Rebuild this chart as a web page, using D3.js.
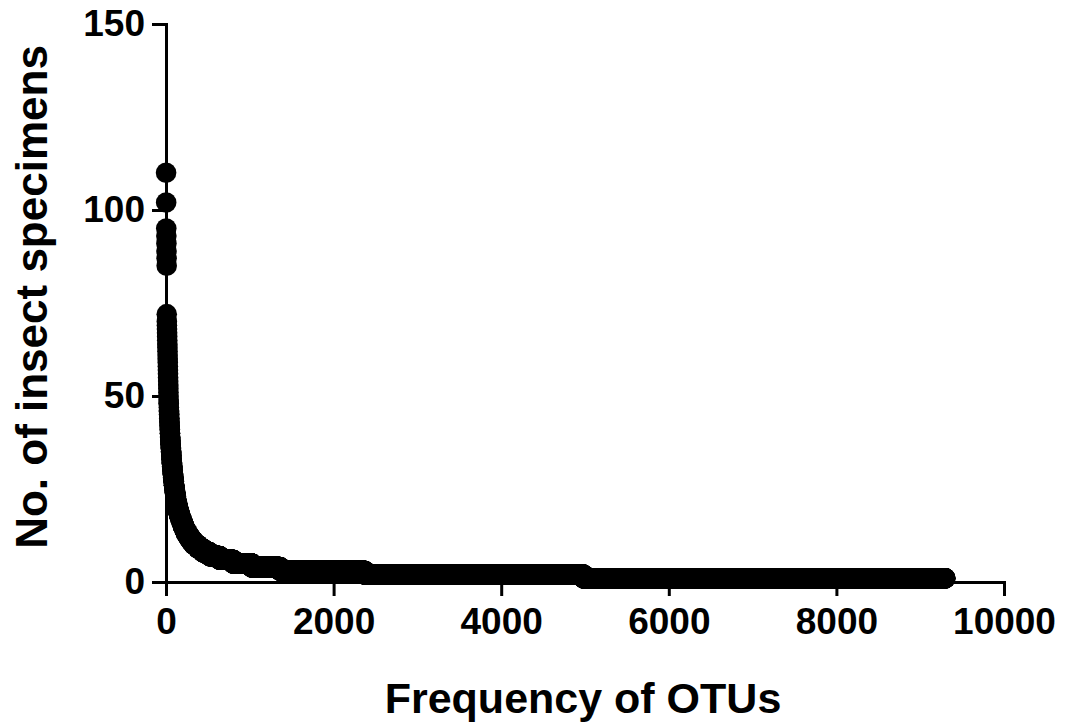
<!DOCTYPE html>
<html>
<head>
<meta charset="utf-8">
<script src="https://cdn.jsdelivr.net/npm/d3@7"></script>
<style>
  body { margin: 0; background: #fff; }
  text { font-family: "Liberation Sans", Arial, sans-serif; font-weight: bold; }
</style>
</head>
<body>
<div id="chart"></div>
<script>
// abundance level (specimens per OTU) and how many OTUs have that abundance,
// read off the rank-abundance curve, highest first
var abundanceLevels = [110, 102, 95, 93, 91, 89, 87, 85, 72, 70,
  69, 68, 67, 66, 65, 64, 63, 62, 61, 60, 59, 58, 57, 56, 55, 54, 53, 52, 51,
  50, 49, 48, 47, 46, 45, 44, 43, 42, 41, 40, 39, 38, 37, 36, 35, 34, 33, 32, 31,
  30, 29, 28, 27, 26, 25, 24, 23, 22, 21, 20, 19, 18, 17, 16, 15, 14, 13, 12, 11,
  10, 9, 8, 7, 6, 5, 4, 3, 2, 1];
var otuCounts = [1, 1, 1, 1, 1, 1, 1, 1, 1, 1,
  1, 1, 1, 1, 1, 1, 1, 1, 1, 1, 1, 1, 1, 1, 1, 1, 1, 1, 1,
  1, 1, 2, 1, 2, 2, 2, 2, 2, 2, 2, 2, 3, 3, 3, 3, 3, 3, 4, 4,
  4, 4, 5, 5, 5, 6, 6, 7, 7, 9, 9, 12, 15, 15, 15, 20, 20, 25, 30, 35,
  50, 60, 80, 120, 160, 220, 340, 1010, 2610, 4320];

var xTicks = [0, 2000, 4000, 6000, 8000, 10000];
var yTicks = [0, 50, 100, 150];

var width = 1065, height = 727;

// expand the frequency table into ranked OTUs
var points = [];
var rank = 0;
abundanceLevels.forEach(function (a, i) {
	for (var k = 0; k < otuCounts[i]; k++) {
		rank++;
		points.push({ rank: rank, value: a });
	}
});

var svg = d3.select('#chart').append('svg')
	.attr('width', width)
	.attr('height', height);

var x = d3.scaleLinear().domain([0, 10000]).range([166, 1004]);
var y = d3.scaleLinear().domain([0, 150]).range([582, 24]);

// points first, axes drawn on top like the original
svg.append('g').selectAll('circle').data(points).enter()
	.append('circle')
	.attr('cx', function (d) { return x(d.rank); })
	.attr('cy', function (d) { return y(d.value); })
	.attr('r', 10.3)
	.attr('fill', '#000');

var xAxis = svg.append('g')
	.attr('transform', 'translate(0,' + y(0) + ')')
	.call(d3.axisBottom(x).tickValues(xTicks).tickSize(14).tickPadding(12).tickFormat(d3.format('d')));

var yAxis = svg.append('g')
	.attr('transform', 'translate(' + x(0) + ',0)')
	.call(d3.axisLeft(y).tickValues(yTicks).tickSize(14).tickPadding(7));

[xAxis, yAxis].forEach(function (g) {
	g.selectAll('path, line').attr('stroke', '#000').attr('stroke-width', 3);
	g.selectAll('text').attr('fill', '#000').style('font-size', '37px');
});

svg.append('text')
	.attr('x', 583)
	.attr('y', 713)
	.attr('text-anchor', 'middle')
	.style('font-size', '43px')
	.text('Frequency of OTUs');

svg.append('text')
	.attr('transform', 'translate(47,297) rotate(-90)')
	.attr('text-anchor', 'middle')
	.style('font-size', '44px')
	.text('No. of insect specimens');
</script>
</body>
</html>
